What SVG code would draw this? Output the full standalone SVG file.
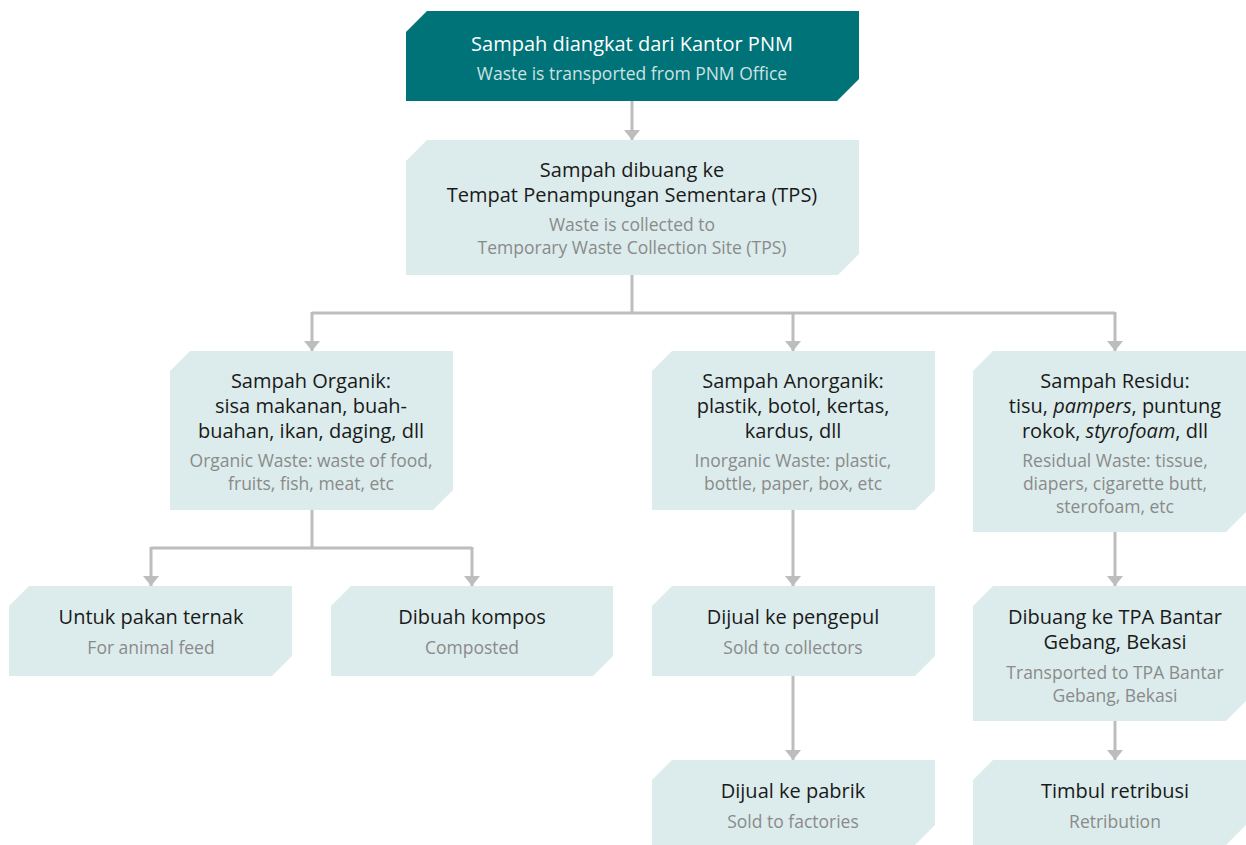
<svg xmlns="http://www.w3.org/2000/svg" width="1246" height="845" viewBox="0 0 1246 845">
  <defs>
    <marker id="arrow" viewBox="0 0 10 16" markerWidth="10" markerHeight="16" refX="10" refY="8" orient="auto" markerUnits="userSpaceOnUse">
      <path d="M0,0 L10,8 L0,16 Z" fill="#bdbdbd"/>
    </marker>
  </defs>
  <style>
    .box { fill: #dcecec; }
    .box-dark { fill: #007378; }
    .t { font-family: "Open Sans", "Liberation Sans", sans-serif; font-size: 20px; fill: #1a1a1a; text-anchor: middle; }
    .s { font-family: "Open Sans", "Liberation Sans", sans-serif; font-size: 17.5px; fill: #8a8a8a; text-anchor: middle; }
    .dark .t { fill: #ffffff; }
    .dark .s { fill: #cce2e2; }
    .link { fill: none; stroke: #bdbdbd; stroke-width: 3; }
    .arr { fill: none; stroke: #bdbdbd; stroke-width: 3; marker-end: url(#arrow); }
  </style>
  <rect width="1246" height="845" fill="#ffffff"/>

  <!-- connectors -->
  <g id="connectors">
    <path class="arr" d="M632,101 V140"/>
    <path class="link" d="M632,275 V313 M312,313 H1115"/>
    <path class="arr" d="M312,312 V351"/>
    <path class="arr" d="M793,312 V351"/>
    <path class="arr" d="M1115,312 V351"/>
    <path class="link" d="M312,510 V548 M151,548 H472"/>
    <path class="arr" d="M151,547 V586"/>
    <path class="arr" d="M472,547 V586"/>
    <path class="arr" d="M793,510 V586"/>
    <path class="arr" d="M1115,532 V586"/>
    <path class="arr" d="M793,676 V760"/>
    <path class="arr" d="M1115,721 V760"/>
  </g>

  <!-- nodes: rectangles with chamfered top-left and bottom-right corners -->
  <g id="node-start" class="dark">
    <path class="box-dark" d="M427,11 H859 V79 L837,101 H406 V32 Z"/>
    <text class="t" x="632" y="51">Sampah diangkat dari Kantor PNM</text>
    <text class="s" x="632" y="80">Waste is transported from PNM Office</text>
  </g>

  <g id="node-tps">
    <path class="box" d="M427,140 H859 V254 L838,275 H406 V161 Z"/>
    <text class="t" x="632" y="177">Sampah dibuang ke</text>
    <text class="t" x="632" y="202">Tempat Penampungan Sementara (TPS)</text>
    <text class="s" x="632" y="231">Waste is collected to</text>
    <text class="s" x="632" y="254">Temporary Waste Collection Site (TPS)</text>
  </g>

  <g id="node-organik">
    <path class="box" d="M190,351 H453 V490 L433,510 H170 V371 Z"/>
    <text class="t" x="311" y="388">Sampah Organik:</text>
    <text class="t" x="311" y="413">sisa makanan, buah-</text>
    <text class="t" x="311" y="438">buahan, ikan, daging, dll</text>
    <text class="s" x="311" y="467">Organic Waste: waste of food,</text>
    <text class="s" x="311" y="490">fruits, fish, meat, etc</text>
  </g>

  <g id="node-anorganik">
    <path class="box" d="M672,351 H935 V490 L915,510 H652 V371 Z"/>
    <text class="t" x="793" y="388">Sampah Anorganik:</text>
    <text class="t" x="793" y="413">plastik, botol, kertas,</text>
    <text class="t" x="793" y="438">kardus, dll</text>
    <text class="s" x="793" y="467">Inorganic Waste: plastic,</text>
    <text class="s" x="793" y="490">bottle, paper, box, etc</text>
  </g>

  <g id="node-residu">
    <path class="box" d="M993,351 H1246 V512 L1226,532 H973 V371 Z"/>
    <text class="t" x="1115" y="388">Sampah Residu:</text>
    <text class="t" x="1115" y="413">tisu, <tspan font-style="italic">pampers</tspan>, puntung</text>
    <text class="t" x="1115" y="438">rokok, <tspan font-style="italic">styrofoam</tspan>, dll</text>
    <text class="s" x="1115" y="467">Residual Waste: tissue,</text>
    <text class="s" x="1115" y="490">diapers, cigarette butt,</text>
    <text class="s" x="1115" y="513">sterofoam, etc</text>
  </g>

  <g id="node-pakan">
    <path class="box" d="M29,586 H292 V656 L272,676 H9 V606 Z"/>
    <text class="t" x="151" y="624">Untuk pakan ternak</text>
    <text class="s" x="151" y="654">For animal feed</text>
  </g>

  <g id="node-kompos">
    <path class="box" d="M351,586 H613 V656 L593,676 H331 V606 Z"/>
    <text class="t" x="472" y="624">Dibuah kompos</text>
    <text class="s" x="472" y="654">Composted</text>
  </g>

  <g id="node-pengepul">
    <path class="box" d="M672,586 H935 V656 L915,676 H652 V606 Z"/>
    <text class="t" x="793" y="624">Dijual ke pengepul</text>
    <text class="s" x="793" y="654">Sold to collectors</text>
  </g>

  <g id="node-pabrik">
    <path class="box" d="M672,760 H935 V825 L915,845 H652 V780 Z"/>
    <text class="t" x="793" y="798">Dijual ke pabrik</text>
    <text class="s" x="793" y="828">Sold to factories</text>
  </g>

  <g id="node-tpa">
    <path class="box" d="M993,586 H1246 V701 L1226,721 H973 V606 Z"/>
    <text class="t" x="1115" y="624">Dibuang ke TPA Bantar</text>
    <text class="t" x="1115" y="649">Gebang, Bekasi</text>
    <text class="s" x="1115" y="679">Transported to TPA Bantar</text>
    <text class="s" x="1115" y="702">Gebang, Bekasi</text>
  </g>

  <g id="node-retribusi">
    <path class="box" d="M993,760 H1246 V825 L1226,845 H973 V780 Z"/>
    <text class="t" x="1115" y="798">Timbul retribusi</text>
    <text class="s" x="1115" y="828">Retribution</text>
  </g>
</svg>
